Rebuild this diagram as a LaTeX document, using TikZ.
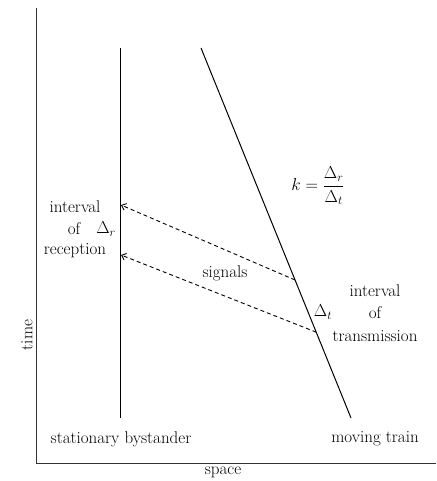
\documentclass[tikz,border=0pt]{standalone}
\usepackage{amsmath}
\usetikzlibrary{arrows.meta,calc}
\begin{document}
\begin{tikzpicture}[x=1pt,y=-1pt,
  axis/.style={line width=0.8pt,black!80},
  world/.style={line width=1pt,black},
  signal/.style={line width=0.9pt,dash pattern=on 4pt off 3pt,-{Straight Barb[length=4pt,width=7pt]}},
  lbl/.style={font=\fontsize{17}{20}\selectfont,inner sep=0pt,align=center}]
\useasboundingbox (0,0) rectangle (436,481);
% axes
\coordinate (ytop) at (36,8);
\coordinate (O) at (36,463);
\coordinate (xend) at (436,463);
\draw[axis] (ytop) -- (O) -- (xend);
% world lines
\coordinate (B1) at (120,48);
\coordinate (B2) at (120,418);
\coordinate (T1) at (201,48);
\coordinate (T2) at (351,418);
\draw[world] (B1) -- (B2);
\draw[world] (T1) -- (T2);
% signals
\coordinate (S1) at ($(T1)!0.627!(T2)$);
\coordinate (S2) at ($(T1)!0.768!(T2)$);
\coordinate (R1) at (121,205);
\coordinate (R2) at (121,255);
\draw[signal] (S1) -- (R1);
\draw[signal] (S2) -- (R2);
% labels
\node[lbl] (int1) at (75,207) {interval};
\node[lbl] (of1) at (74,229) {of};
\node[lbl] (dr) at (106,229) {$\Delta_r$};
\node[lbl] (rec) at (75,251) {reception};
\node[lbl] (sig) at (225,273) {signals};
\node[lbl] (dt) at (323,312) {$\Delta_t$};
\node[lbl] (int2) at (375,291) {interval};
\node[lbl] (of2) at (375,313) {of};
\node[lbl] (trans) at (375,336) {transmission};
\node[lbl] (k) at (318,186) {$k=\dfrac{\Delta_r}{\Delta_t}$};
\node[lbl,rotate=90] (time) at (27,335) {time};
\node[lbl] (space) at (223,472) {space};
\node[lbl] (stat) at (121,439) {stationary bystander};
\node[lbl] (train) at (375,439) {moving train};
\end{tikzpicture}
\end{document}
